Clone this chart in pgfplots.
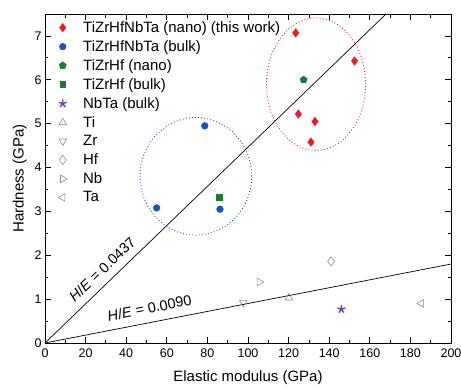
\documentclass[border=0pt]{standalone}
\usepackage{fontspec}
\setmainfont{Liberation Sans}
\setsansfont{Liberation Sans}
\usepackage{pgfplots}
\pgfplotsset{compat=1.18}
\usetikzlibrary{plotmarks}
\definecolor{cred}{RGB}{232,30,36}
\definecolor{cblue}{RGB}{30,80,190}
\definecolor{cgreen}{RGB}{34,122,48}
\definecolor{cpurple}{RGB}{106,64,180}
\definecolor{cgray}{RGB}{140,140,140}
\begin{document}
\begin{tikzpicture}
\useasboundingbox (-45pt,-46pt) rectangle (416pt,343pt);
\begin{axis}[
  scale only axis, width=406pt, height=329pt,
  xmin=0, xmax=200, ymin=0, ymax=7.5,
  xtick={0,20,...,200}, ytick={0,1,...,7},
  minor x tick num=1, minor y tick num=1,
  tick align=inside,
  major tick length=6pt, minor tick length=3.5pt,
  axis line style={line width=0.9pt},
  tick style={line width=0.8pt, black},
  ticklabel style={font=\fontsize{12.5}{15}\selectfont},
  xticklabel style={yshift=-2pt},
  /pgf/number format/assume math mode=true,
  xlabel={Elastic modulus (GPa)}, ylabel={Hardness (GPa)},
  label style={font=\fontsize{15}{17}\selectfont},
  xlabel style={yshift=-6pt},
  ylabel style={yshift=1pt},
  legend style={draw=none, fill=none, at={(0.025,0.99)}, anchor=north west,
     font=\fontsize{15}{17}\selectfont, row sep=2.6pt,
     /tikz/every odd column/.append style={column sep=14pt}},
  legend cell align=left,
  clip=false,
]
\addplot[only marks, mark=diamond*, mark size=4.3pt, color=cred] coordinates {
 (123.5,7.07) (152.5,6.43) (124.8,5.22) (133,5.05) (131,4.58)};
\addlegendentry{TiZrHfNbTa (nano) (this work)}
\addplot[only marks, mark=*, mark size=3.4pt, color=cblue] coordinates {
 (78.7,4.95) (55,3.08) (86.2,3.05)};
\addlegendentry{TiZrHfNbTa (bulk)}
\addplot[only marks, mark=pentagon*, mark size=3.8pt, color=cgreen] coordinates {
 (127.4,6.0)};
\addlegendentry{TiZrHf (nano)}
\addplot[only marks, mark=square*, mark size=2.9pt, color=cgreen] coordinates {
 (85.7,3.33)};
\addlegendentry{TiZrHf (bulk)}
\addplot[only marks, mark=star, mark size=4.2pt, color=cpurple, mark options={fill=cpurple, line width=1.4pt}] coordinates {
 (146,0.77)};
\addlegendentry{NbTa (bulk)}
\addplot[only marks, mark=triangle, mark size=4.4pt, color=cgray, mark options={line width=0.6pt}] coordinates {(120.2,1.03)};
\addlegendentry{Ti}
\addplot[only marks, mark=triangle, mark size=4.4pt, color=cgray, mark options={rotate=180, line width=0.6pt}] coordinates {(97.7,0.92)};
\addlegendentry{Zr}
\addplot[only marks, mark=diamond, mark size=4.6pt, color=cgray, mark options={line width=0.6pt}] coordinates {(140.9,1.86)};
\addlegendentry{Hf}
\addplot[only marks, mark=triangle, mark size=4.4pt, color=cgray, mark options={rotate=-90, line width=0.6pt}] coordinates {(105.6,1.39)};
\addlegendentry{Nb}
\addplot[only marks, mark=triangle, mark size=4.4pt, color=cgray, mark options={rotate=90, line width=0.6pt}] coordinates {(185.4,0.90)};
\addlegendentry{Ta}
% H/E lines
\addplot[black, line width=0.7pt, forget plot] coordinates {(0,0) (168,7.5)};
\addplot[black, line width=0.7pt, forget plot] coordinates {(0,0) (200,1.8)};
% ellipses
\draw[cred, line width=0.9pt, dash pattern=on 0.9pt off 2.2pt] (axis cs:133.5,5.9) ellipse [x radius=24.4, y radius=1.51];
\draw[cblue, line width=0.9pt, dash pattern=on 0.9pt off 2.2pt] (axis cs:74.3,3.8) ellipse [x radius=27.5, y radius=1.34];
\node[rotate=43.5, font=\fontsize{14.5}{17}\selectfont] at (axis cs:28.2,1.68) {\textit{H}/\textit{E} = 0.0437};
\node[rotate=11, font=\fontsize{14.5}{17}\selectfont] at (axis cs:51.5,0.8) {\textit{H}/\textit{E} = 0.0090};
\end{axis}
\end{tikzpicture}
\end{document}
